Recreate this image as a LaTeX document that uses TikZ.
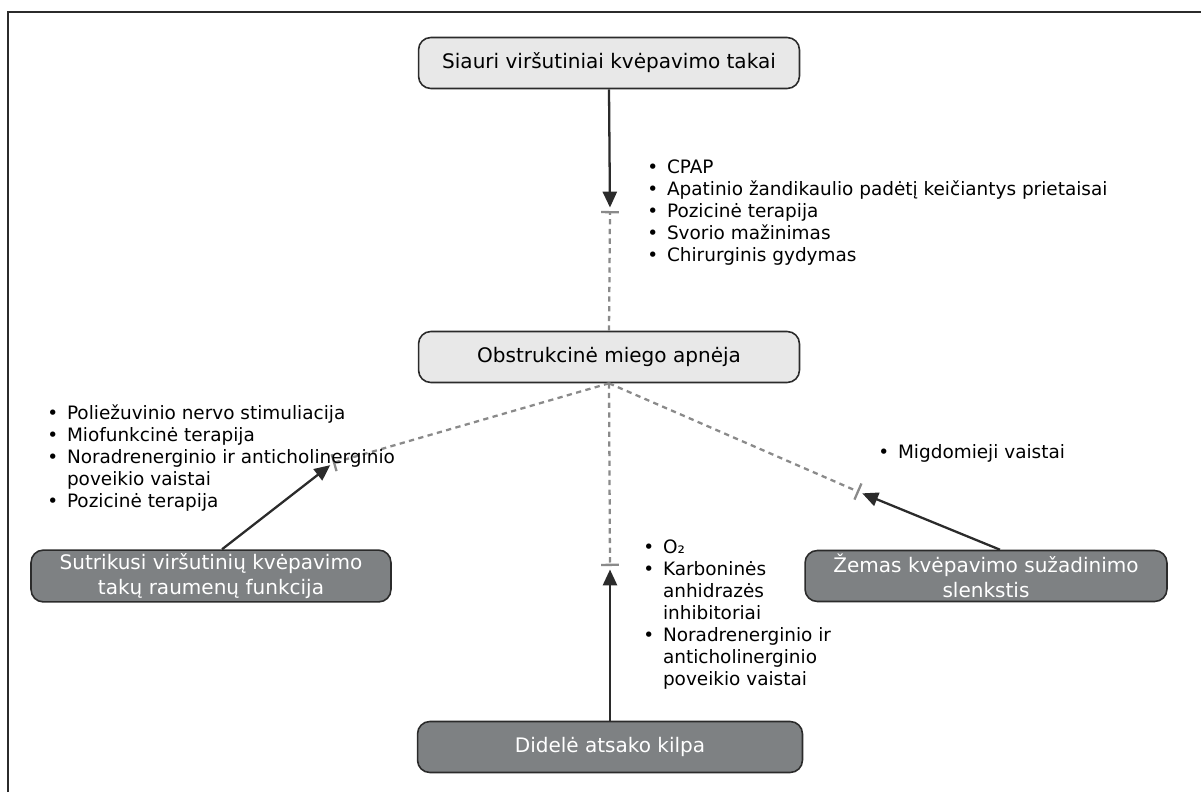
\documentclass[tikz,border=0pt]{standalone}
\usepackage{fontspec}
\setmainfont{DejaVu Sans}
\usetikzlibrary{arrows.meta, calc}
\definecolor{boxlight}{HTML}{E8E8E8}
\definecolor{boxdark}{HTML}{7E8183}
\definecolor{edgec}{HTML}{2B2B2B}
\definecolor{dashgray}{HTML}{8A8A8A}
\tikzset{
    cause/.style={draw=edgec, line width=0.9pt, rounded corners=7pt, minimum height=1.02cm, inner sep=2pt, align=center, font=\fontsize{11.4}{14}\selectfont},
    light/.style={cause, fill=boxlight, text=black},
    dark/.style={cause, fill=boxdark, text=white},
    act/.style={draw=edgec, line width=1.3pt, -{Triangle[length=9pt, width=8pt]}, shorten >=2pt},
    inh/.style={draw=dashgray, line width=1.3pt, dash pattern=on 3pt off 2.5pt, -{Bar[width=10pt]}},
    lst/.style={inner sep=0pt, anchor=north west, font=\fontsize{10.5}{12.5}\selectfont}
}

\begin{document}
\begin{tikzpicture}[x=0.02cm, y=-0.02cm]
        \useasboundingbox (0,0) rectangle (1201,792);
        \draw[edgec, line width=1.1pt] (8,792) -- (8,12) -- (1201,12);

        \node[light, minimum width=7.62cm] (narrow) at (609,63) {Siauri viršutiniai kvėpavimo takai};
        \node[light, minimum width=7.62cm] (osa) at (609,357) {Obstrukcinė miego apnėja};
        \node[dark, minimum width=7.2cm] (muscle) at (211,576) {Sutrikusi viršutinių kvėpavimo\\takų raumenų funkcija};
        \node[dark, minimum width=7.24cm] (arousal) at (986,576) {Žemas kvėpavimo sužadinimo\\slenkstis};
        \node[dark, minimum width=7.7cm] (loop) at (610,747) {Didelė atsako kilpa};

        \coordinate (bt) at (610,211);
        \coordinate (bb) at (610,566);
        \coordinate (bl) at (333,463);
        \coordinate (br) at (859,492);

        \draw[inh] (osa.north) -- (bt);
        \draw[act] (narrow.south) -- (bt);
        \draw[inh] (osa.south) -- (bb);
        \draw[act] (loop.north) -- (bb);
        \draw[inh] (osa.south) -- (bl);
        \draw[act] ($(muscle.north)+(11,0)$) -- (bl);
        \draw[inh] (osa.south) -- (br);
        \draw[act] ($(arousal.north)+(14,0)$) -- (br);

        % treatments
        \node[lst] (ttop) at (647,158) {\begin{tabular}{@{}l@{\hspace{5pt}}l@{}}
            • & CPAP\\
            • & Apatinio žandikaulio padėtį keičiantys prietaisai\\
            • & Pozicinė terapija\\
            • & Svorio mažinimas\\
            • & Chirurginis gydymas
        \end{tabular}};
        \node[lst] (tleft) at (47,404) {\begin{tabular}{@{}l@{\hspace{5pt}}l@{}}
            • & Poliežuvinio nervo stimuliacija\\
            • & Miofunkcinė terapija\\
            • & Noradrenerginio ir anticholinerginio\\
              & poveikio vaistai\\
            • & Pozicinė terapija
        \end{tabular}};
        \node[lst] (tbot) at (643,538) {\begin{tabular}{@{}l@{\hspace{5pt}}l@{}}
            • & O₂\\
            • & Karboninės\\
              & anhidrazės\\
              & inhibitoriai\\
            • & Noradrenerginio ir\\
              & anticholinerginio\\
              & poveikio vaistai
        \end{tabular}};
        \node[lst] (tright) at (878,443) {\begin{tabular}{@{}l@{\hspace{5pt}}l@{}}
            • & Migdomieji vaistai
        \end{tabular}};
\end{tikzpicture}
\end{document}
